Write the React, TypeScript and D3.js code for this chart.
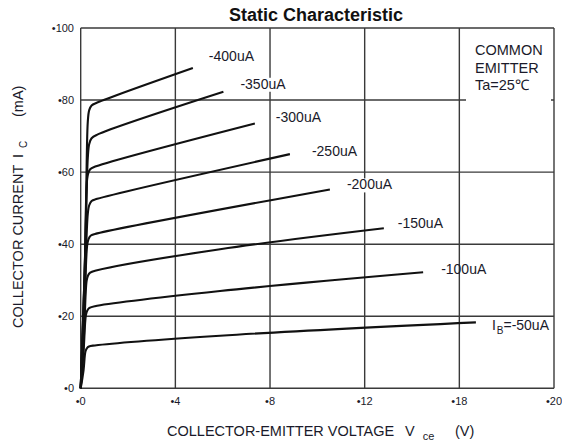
import * as React from "react";
import * as d3 from "d3";

// collector current Ic (mA) vs Vce (V), one curve per base current
const ib50 = [[0, 0], [0.12, 5], [0.2, 10.2], [0.26, 11.1], [0.35, 11.6], [0.6, 11.9], [5.89, 14.6], [16.7, 18.3]];
const ib100 = [[0, 0], [0.12, 10], [0.22, 20.3], [0.28, 21.6], [0.37, 22.3], [0.6, 22.8], [5.89, 27.0], [14.47, 32.2]];
const ib150 = [[0, 0], [0.14, 15], [0.25, 29.8], [0.31, 31.3], [0.4, 32.1], [0.65, 32.7], [5.89, 38.6], [12.81, 44.4]];
const ib200 = [[0, 0], [0.15, 20], [0.27, 39.5], [0.33, 41.4], [0.43, 42.4], [0.7, 43], [10.53, 55.2]];
const ib250 = [[0, 0], [0.16, 25], [0.3, 48.5], [0.36, 50.8], [0.46, 52], [0.7, 52.6], [8.84, 65.0]];
const ib300 = [[0, 0], [0.16, 30], [0.25, 56], [0.3, 59.2], [0.4, 60.8], [0.65, 61.6], [7.36, 73.5]];
const ib350 = [[0, 0], [0.18, 35], [0.3, 64], [0.36, 67.8], [0.46, 69.4], [0.7, 70.4], [6.03, 82.3]];
const ib400 = [[0, 0], [0.2, 40], [0.3, 74], [0.36, 77.2], [0.46, 78.5], [0.7, 79.3], [4.74, 88.9]];

const series = [ib50, ib100, ib150, ib200, ib250, ib300, ib350, ib400];
const seriesLabels = ["=-50uA", "-100uA", "-150uA", "-200uA", "-250uA", "-300uA", "-350uA", "-400uA"];

const xTicks = [0, 4, 8, 12, 16, 20];
const xTickLabels = ["0", "4", "8", "12", "18", "20"];
const yTicks = [0, 20, 40, 60, 80, 100];
const yTickLabels = ["0", "20", "40", "60", "80", "100"];
const noteLines = ["COMMON", "EMITTER", "Ta=25\u2103"];

const FONT = "'Liberation Sans', Arial, sans-serif";

export default function App() {
  const W = 562;
  const H = 447;
  const x = d3.scaleLinear().domain([0, 20]).range([80.7, 554]);
  const y = d3.scaleLinear().domain([0, 100]).range([388.3, 28]);

  const line = d3
    .line<number[]>()
    .x((d) => x(d[0]))
    .y((d) => y(d[1]))
    .curve(d3.curveCatmullRom.alpha(0.5));

  // small nudges for the curve labels (px), lowest curve first
  const labelDx = [16, 18, 14, 17, 22, 21, 17, 16];
  const labelDy = [8, 2, 0, 0, 2, -1, -3, -7];
  const maskLabel = [false, false, false, true, false, false, true, false];

  const gridColor = "#3a3a3a";

  return (
    <svg
      width={W}
      height={H}
      style={{ position: "absolute", left: 0, top: 0, background: "#fff" }}
      fontFamily={FONT}
    >
      <rect x={0} y={0} width={W} height={H} fill="#fff" />

      {/* grid */}
      {xTicks.map((t) => (
        <line key={"vx" + t} x1={x(t)} x2={x(t)} y1={y(100)} y2={y(0)} stroke={gridColor} strokeWidth={1.4} />
      ))}
      {yTicks.map((t) => (
        <line key={"hy" + t} x1={x(0)} x2={x(20)} y1={y(t)} y2={y(t)} stroke={gridColor} strokeWidth={1.4} />
      ))}

      {/* white box behind the note */}
      <rect x={466} y={y(100) + 1} width={85} height={80} fill="#fff" />

      {/* curves */}
      {series.map((s, i) => (
        <path key={"c" + i} d={line(s) || ""} fill="none" stroke="#111" strokeWidth={2.1} strokeLinejoin="round" />
      ))}

      {/* curve labels */}
      {series.map((s, i) => {
        const end = s[s.length - 1];
        const lx = x(end[0]) + labelDx[i];
        const ly = y(end[1]) + labelDy[i];
        if (i === 0) {
          return (
            <text key={"l" + i} x={lx} y={ly} fontSize={14} fill="#1a1a2a">
              I
              <tspan dx={1} dy={4} fontSize={10}>B</tspan>
              <tspan dx={0} dy={-4}>{seriesLabels[i]}</tspan>
            </text>
          );
        }
        return (
          <g key={"l" + i}>
            {maskLabel[i] && <rect x={lx} y={ly - 11} width={47} height={14} fill="#fff" />}
            <text x={lx} y={ly} fontSize={14} fill="#1a1a2a">
              {seriesLabels[i]}
            </text>
          </g>
        );
      })}

      {/* note */}
      {noteLines.map((t, i) => (
        <text key={"n" + i} x={475} y={55 + i * 17.5} fontSize={14.5} fill="#1a1a2a">
          {t}
        </text>
      ))}

      {/* tick labels */}
      {xTicks.map((t, i) => (
        <text key={"xt" + t} x={x(t)} y={405} fontSize={11} textAnchor="middle" fill="#1a1a2a">
          {"\u2022" + xTickLabels[i]}
        </text>
      ))}
      {yTicks.map((t, i) => (
        <text key={"yt" + t} x={74} y={y(t) + 4} fontSize={11} textAnchor="end" fill="#1a1a2a">
          {"\u2022" + yTickLabels[i]}
        </text>
      ))}

      {/* title */}
      <text x={316} y={21} fontSize={18} fontWeight="bold" textAnchor="middle" fill="#111">
        Static Characteristic
      </text>

      {/* x axis title */}
      <text x={167} y={436} fontSize={14.5} fill="#1a1a2a">
        COLLECTOR-EMITTER VOLTAGE
      </text>
      <text x={405} y={436} fontSize={14.5} fill="#1a1a2a">
        V<tspan dx={8} dy={4} fontSize={11}>ce</tspan>
      </text>
      <text x={455} y={436} fontSize={14.5} fill="#1a1a2a">
        (V)
      </text>

      {/* y axis title */}
      <text transform="translate(22.5,328) rotate(-90)" fontSize={14.5} fill="#1a1a2a">
        COLLECTOR CURRENT
      </text>
      <text transform="translate(22.5,158) rotate(-90)" fontSize={14.5} fill="#1a1a2a">
        I<tspan dx={6} dy={4} fontSize={10}>C</tspan>
      </text>
      <text transform="translate(22.5,117) rotate(-90)" fontSize={14.5} fill="#1a1a2a">
        (mA)
      </text>
    </svg>
  );
}
